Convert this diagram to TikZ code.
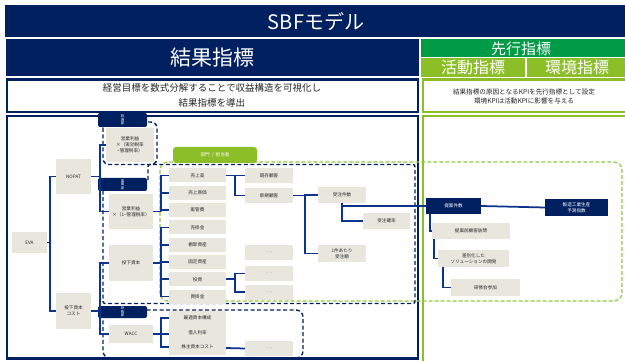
\documentclass[tikz,border=0pt]{standalone}
\usepackage{fontspec}
\setmainfont{Noto Sans CJK JP}
\definecolor{navy}{RGB}{0,32,96}
\definecolor{lineblue}{RGB}{12,52,140}
\definecolor{boxgray}{RGB}{232,230,221}
\definecolor{dgreen}{RGB}{0,155,70}
\definecolor{lgreen}{RGB}{140,190,40}
\definecolor{dashgreen}{RGB}{150,200,70}
\definecolor{dotc}{RGB}{130,140,180}
\begin{document}
\begin{tikzpicture}[x=1pt,y=-1pt,
  conn/.style={draw=lineblue, line width=1.75pt},
  gbox/.style={fill=boxgray, inner sep=0pt, align=center, text=black!85, font=\fontsize{4.6}{5.8}\selectfont},
  nbox/.style={fill=navy, inner sep=0pt, align=center, text=white, font=\fontsize{4.6}{5.8}\selectfont},
  dotbox/.style={gbox, text=dotc, font=\fontsize{6}{7}\selectfont},
  tabbox/.style={fill=navy, rounded corners=2pt, inner sep=0pt, align=center, text=white, font=\fontsize{3.4}{3.7}\selectfont},
  navydash/.style={draw=navy, line width=1.4pt, dash pattern=on 4pt off 2.5pt},
  greendash/.style={draw=dashgreen, line width=1.2pt, dash pattern=on 4pt off 2pt},
  itembox/.style={gbox, minimum width=57pt, minimum height=14pt}
]
\useasboundingbox (0,0) rectangle (625,361);
\fill[white] (0,0) rectangle (625,361);

% ---------- header rows ----------
\fill[navy] (5,5) rectangle (625,37);
\node[text=white, font=\fontsize{20}{22}\selectfont] (title) at (316,21.5) {SBFモデル};
\fill[navy] (6,39.5) rectangle (419,76);
\node[text=white, font=\fontsize{21}{23}\selectfont] (kekka) at (212,58) {結果指標};
\fill[dgreen] (421,39.5) rectangle (625,57.5);
\node[text=white, font=\fontsize{15}{16}\selectfont] (senko) at (521,48.5) {先行指標};
\fill[lgreen] (421,58.5) rectangle (525,77);
\node[text=white, font=\fontsize{16}{17}\selectfont] (katsudo) at (473,67.5) {活動指標};
\fill[lgreen] (527,58.5) rectangle (625,77);
\node[text=white, font=\fontsize{16}{17}\selectfont] (kankyo) at (577,67.5) {環境指標};

\draw[navy, line width=2.5pt, fill=white] (7,79.5) rectangle (418,112);
\node[align=center, font=\fontsize{9.5}{15}\selectfont, text=black!85] (desc1) at (212,95.5)
  {経営目標を数式分解することで収益構造を可視化し\\結果指標を導出};
\draw[lgreen, line width=2.5pt, fill=white] (423,79.5) rectangle (627,112);
\node[align=center, font=\fontsize{6.6}{8.6}\selectfont, text=black!85] (desc2) at (524,96.5)
  {結果指標の原因となるKPIを先行指標として設定\\環境KPIは活動KPIに影響を与える};

% ---------- main frames ----------
\draw[navy, line width=2.5pt] (7,116) rectangle (418,358.5);
\draw[lgreen, line width=2.5pt] (423,363) -- (423,116) -- (627,116);

% green dashed department frame
\draw[greendash, rounded corners=8pt] (160,162) rectangle (622,301);
% navy dashed frames
\draw[navydash, rounded corners=6pt] (103,122) rectangle (157,164.5);
\draw[navydash, rounded corners=2pt] (148,180) -- (148,164.5) -- (415,164.5) -- (415,303.5) -- (103,303.5) -- (103,190);
\draw[navydash, rounded corners=7pt] (140,310) -- (303,310) -- (303,358) -- (103,358) -- (103,316);

% tabs
\node[tabbox, minimum width=49pt, minimum height=14pt] (tab1) at (122.5,120) {経\\理\\部};
\node[tabbox, minimum width=49pt, minimum height=13pt] (tab2) at (122.5,184.5) {事\\業\\部};
\node[tabbox, minimum width=49pt, minimum height=12pt] (tab3) at (122.5,312) {財\\務\\部};
\node[fill=lgreen, rounded corners=3pt, minimum width=84pt, minimum height=16pt, inner sep=0pt,
      text=white, font=\fontsize{4.6}{5}\selectfont] (tabg) at (215,155) {部門\ \ /\ \ 担当者};

% ---------- boxes ----------
\node[gbox, minimum width=35pt, minimum height=21pt] (eva) at (29.5,242.5) {EVA};
\node[gbox, minimum width=35pt, minimum height=35pt] (nopat) at (73.5,176.5) {NOPAT};
\node[gbox, minimum width=35pt, minimum height=36pt] (tcost) at (73.5,311) {投下資本\\コスト};
\node[gbox, minimum width=48pt, minimum height=34pt] (op1) at (130,145) {営業利益\\×（実効税率\\−管理税率）};
\node[gbox, minimum width=44pt, minimum height=35pt] (op2) at (131,211.5) {営業利益\\×（1−管理税率）};
\node[gbox, minimum width=44pt, minimum height=36pt] (tk) at (131,263) {投下資本};
\node[gbox, minimum width=44pt, minimum height=18pt] (wacc) at (131,334) {WACC};

\node[itembox] (uri) at (197.5,175.5) {売上高};
\node[itembox] (genka) at (197.5,192.8) {売上原価};
\node[itembox] (hankan) at (197.5,210.1) {販管費};
\node[itembox] (urikake) at (197.5,227.4) {売掛金};
\node[itembox] (tana) at (197.5,244.7) {棚卸資産};
\node[itembox] (kotei) at (197.5,262) {固定資産};
\node[itembox] (toshi) at (197.5,279.3) {投資};
\node[itembox] (kaikake) at (197.5,296.6) {買掛金};

\node[gbox, minimum width=57pt, minimum height=44pt] (waccbox) at (197.5,333) {};
\node[gbox, fill=none] (opt) at (197.5,318) {最適資本構成};
\node[gbox, fill=none] (borrow) at (197.5,333) {借入利率};
\node[gbox, fill=none] (equity) at (197.5,347) {株主資本コスト};

\node[gbox, minimum width=48pt, minimum height=15pt] (kizon) at (269,175.5) {既存顧客};
\node[gbox, minimum width=48pt, minimum height=15pt] (shinki) at (269,195.5) {新規顧客};
\node[dotbox, minimum width=48pt, minimum height=15pt] (dotsA) at (269,252.5) {…};
\node[dotbox, minimum width=48pt, minimum height=15pt] (dotsB) at (269,273.5) {…};
\node[dotbox, minimum width=48pt, minimum height=15pt] (dotsC) at (269,292) {…};
\node[dotbox, minimum width=48pt, minimum height=15pt] (dotsD) at (269,348.5) {…};

\node[gbox, minimum width=48pt, minimum height=16pt] (juchu) at (342,195) {受注件数};
\node[gbox, minimum width=47pt, minimum height=16pt] (kakuritsu) at (386.5,221) {受注確率};
\node[gbox, minimum width=48pt, minimum height=17pt] (ikken) at (342,253.5) {1件あたり\\受注額};

\node[nbox, minimum width=55pt, minimum height=16pt] (teian) at (453.5,206) {提案件数};
\node[nbox, minimum width=63pt, minimum height=17pt] (seizo) at (576.5,207.5) {製造工業生産\\予測指数};
\node[gbox, minimum width=78pt, minimum height=16pt] (houmon) at (471,231) {提案前顧客訪問};
\node[gbox, minimum width=71pt, minimum height=17pt] (sabetsu) at (473.5,258.5) {差別化した\\ソリューションの開発};
\node[gbox, minimum width=69pt, minimum height=17pt] (kenshu) at (485.5,287.5) {研修会参加};

% ---------- connectors ----------
% EVA
\coordinate (t1) at (50,242.5);
\draw[conn] (eva.east) -- (t1);
\draw[conn] (nopat.west) -| (t1) |- (tcost.west);
% NOPAT
\coordinate (t2) at (100,176.5);
\draw[conn] (nopat.east) -- (t2);
\draw[conn] (op1.west) -| (t2) |- (op2.west);
% investment cost
\coordinate (t3) at (100,311);
\draw[conn] (tcost.east) -- (t3);
\draw[conn] (tk.west) -| (t3) |- (wacc.west);
% operating profit -> P/L items
\coordinate (t4) at (161,211.5);
\draw[conn] (op2.east) -- (t4);
\draw[conn] (uri.west) -| (t4) |- (hankan.west);
\draw[conn] (genka.west) -- (genka.west -| t4);
% invested capital -> B/S items
\coordinate (t5) at (161,263);
\draw[conn] (tk.east) -- (t5);
\draw[conn] (urikake.west) -| (t5);
\draw[conn] (t5 |- urikake.west) -- (t5 |- kaikake.west) -- (kaikake.west);
\draw[conn] (tana.west) -- (tana.west -| t5);
\draw[conn] (kotei.west) -- (kotei.west -| t5);
\draw[conn] (toshi.west) -- (toshi.west -| t5);
% WACC
\coordinate (t6) at (161,334);
\draw[conn] (wacc.east) -- (t6);
\draw[conn] (169,318) -- (161,318) -- (161,347) -- (169,347);
\draw[conn] (t6) -- (169,334);
% sales -> customers
\coordinate (t7) at (235,175.5);
\draw[conn] (uri.east) -- (kizon.west);
\draw[conn] (t7) |- (shinki.west);
% new customers -> orders
\coordinate (t8) at (305,195.5);
\draw[conn] (shinki.east) -- (t8);
\draw[conn] (juchu.west) -| (t8) |- (ikken.west);
% orders -> probability, proposals
\draw[conn] (juchu.south) |- (kakuritsu.west);
\draw[conn] (342,206) -- (teian.west);
% investment -> ...
\coordinate (t9) at (235,279.3);
\draw[conn] (toshi.east) -- (t9);
\draw[conn] (dotsB.west) -| (t9) |- (dotsC.west);
% equity cost -> ...
\draw[conn] (226,348) -- (dotsD.west);
% leading indicators
\draw[conn] (teian.east) -- (seizo.west);
\draw[conn] (430,214) |- (houmon.west);
\draw[conn] (434,239) |- (sabetsu.west);
\draw[conn] (443,267) |- (kenshu.west);
\end{tikzpicture}
\end{document}
